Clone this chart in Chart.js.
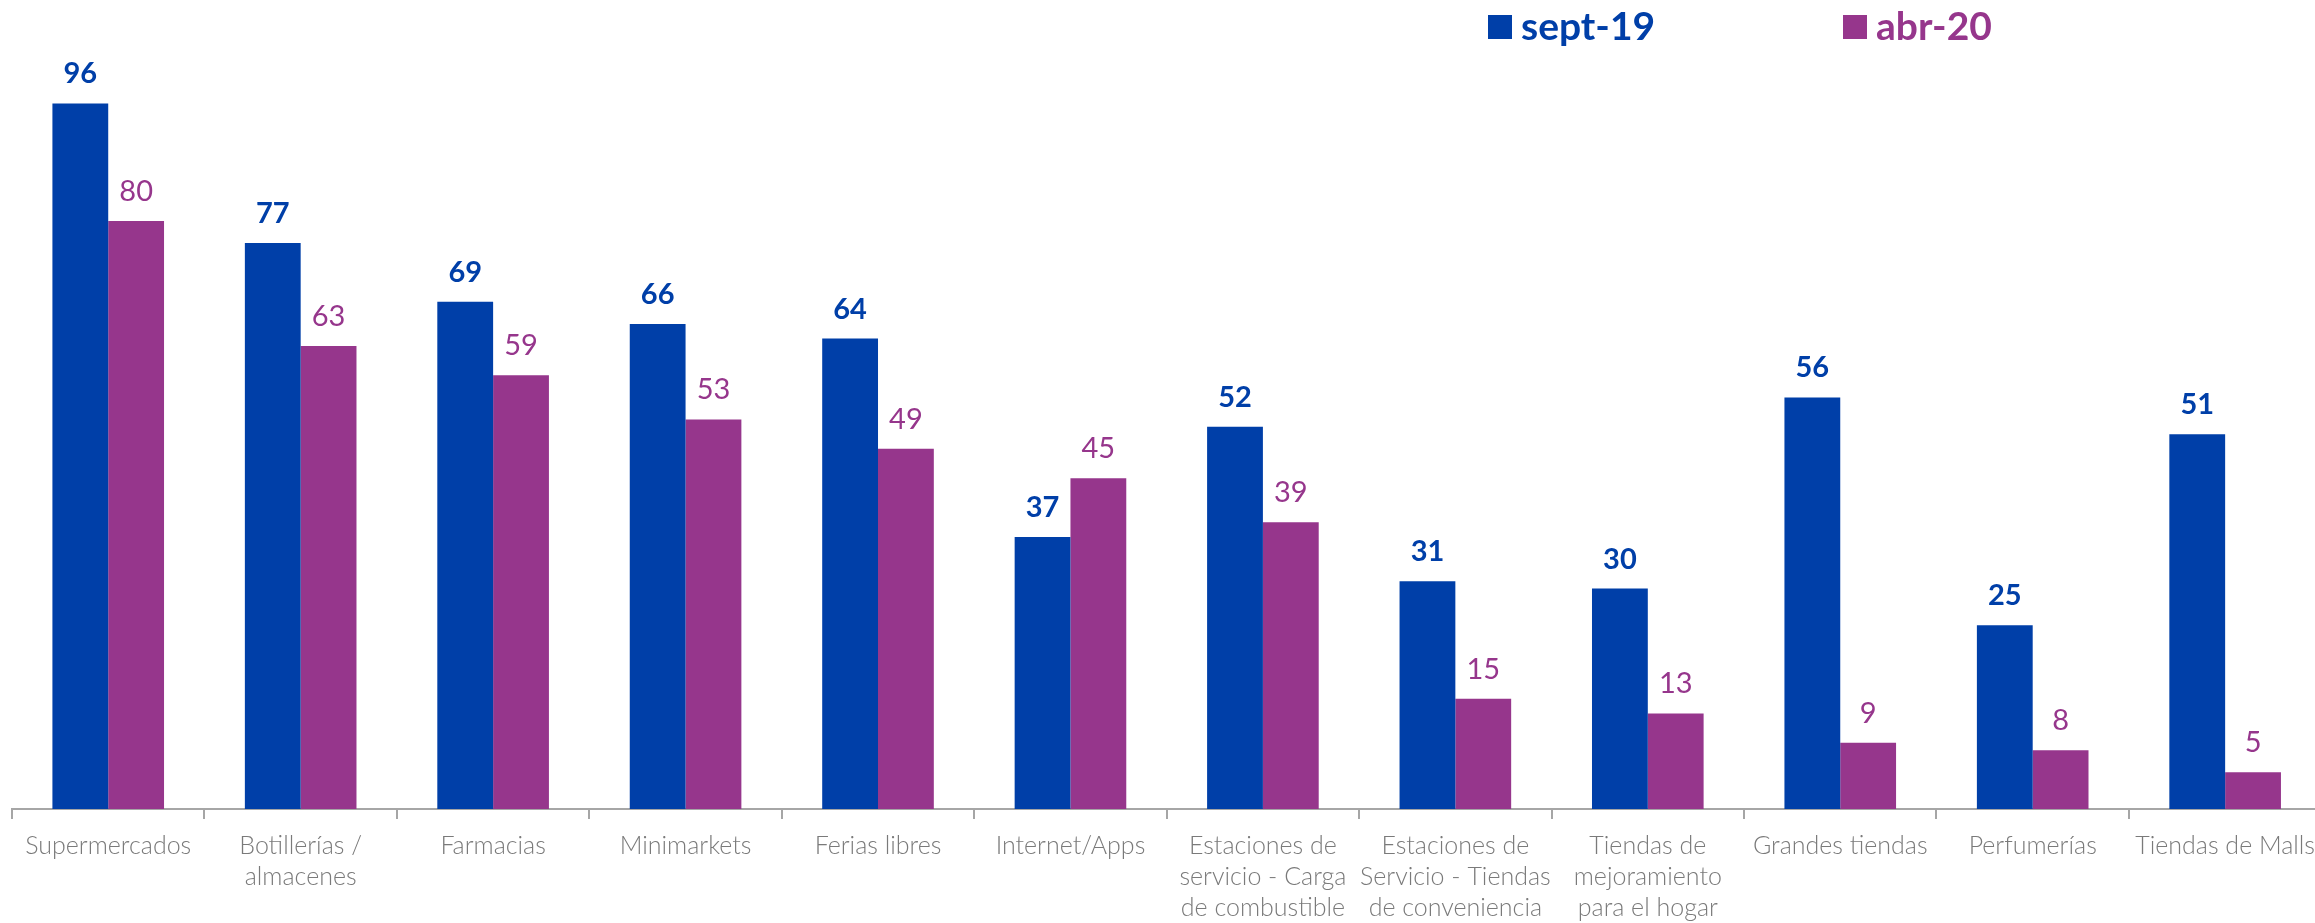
<!DOCTYPE html>
<html lang="es">
<head>
<meta charset="utf-8">
<title>Canales de compra</title>
<script src="https://cdn.jsdelivr.net/npm/chart.js@4.4.1/dist/chart.umd.min.js"></script>
<style>
  html, body { margin: 0; padding: 0; background: #ffffff; overflow: hidden; }
  #wrap { width: 2326px; height: 923px; position: relative; }
</style>
</head>
<body>
<div id="wrap"><canvas id="chart"></canvas></div>
<script>
// Channel names (multi-line labels)
const categories = [
  ['Supermercados'],
  ['Botillerías /', 'almacenes'],
  ['Farmacias'],
  ['Minimarkets'],
  ['Ferias libres'],
  ['Internet/Apps'],
  ['Estaciones de', 'servicio - Carga', 'de combustible'],
  ['Estaciones de', 'Servicio - Tiendas', 'de conveniencia'],
  ['Tiendas de', 'mejoramiento', 'para el hogar'],
  ['Grandes tiendas'],
  ['Perfumerías'],
  ['Tiendas de Malls']
];

// Series names
const seriesNames = ['sept-19', 'abr-20'];

// Values per period
const sept19 = [96, 77, 69, 66, 64, 37, 52, 31, 30, 56, 25, 51];
const abr20  = [80, 63, 59, 53, 49, 45, 39, 15, 13, 9, 8, 5];

const BLUE = '#003fa8';
const PURPLE = '#96368c';
const FONT = 'Lato, "Open Sans", "DejaVu Sans", sans-serif';

// Numbers written above each bar
const valueLabels = {
  id: 'valueLabels',
  afterDatasetsDraw(chart) {
    const ctx = chart.ctx;
    chart.data.datasets.forEach((ds, i) => {
      const meta = chart.getDatasetMeta(i);
      meta.data.forEach((bar, j) => {
        ctx.save();
        ctx.font = (i === 0 ? 'bold ' : '') + '29px ' + FONT;
        ctx.fillStyle = ds.backgroundColor;
        ctx.textAlign = 'center';
        ctx.textBaseline = 'alphabetic';
        ctx.fillText(String(ds.data[j]), bar.x, bar.y - 20);
        ctx.restore();
      });
    });
  }
};

// Legend with square markers in the top band
const squareLegend = {
  id: 'squareLegend',
  afterDraw(chart) {
    const ctx = chart.ctx;
    const items = [
      { x: 1488, ds: chart.data.datasets[0] },
      { x: 1843, ds: chart.data.datasets[1] }
    ];
    items.forEach(it => {
      ctx.save();
      ctx.fillStyle = it.ds.backgroundColor;
      ctx.fillRect(it.x, 15, 24, 24);
      ctx.font = 'bold 39px ' + FONT;
      ctx.textAlign = 'left';
      ctx.textBaseline = 'middle';
      ctx.fillText(it.ds.label, it.x + 33, 27);
      ctx.restore();
    });
  }
};

new Chart(document.getElementById('chart'), {
  type: 'bar',
  data: {
    labels: categories,
    datasets: [
      { label: seriesNames[0], data: sept19, backgroundColor: BLUE, borderWidth: 0 },
      { label: seriesNames[1], data: abr20, backgroundColor: PURPLE, borderWidth: 0 }
    ]
  },
  options: {
    responsive: true,
    maintainAspectRatio: false,
    animation: false,
    layout: { padding: { left: 12, right: 0, top: 74, bottom: -11 } },
    datasets: { bar: { categoryPercentage: 0.58, barPercentage: 1.0 } },
    plugins: {
      legend: { display: false },
      tooltip: { enabled: false }
    },
    scales: {
      x: {
        grid: {
          offset: true,
          drawOnChartArea: false,
          drawTicks: true,
          tickLength: 10,
          color: '#a6a6a6',
          lineWidth: 2
        },
        border: { display: true, color: '#a6a6a6', width: 2 },
        ticks: {
          color: '#7a7a7a',
          font: { family: FONT, size: 25, weight: '300', lineHeight: 1.24 },
          padding: 11,
          maxRotation: 0,
          autoSkip: false
        }
      },
      y: {
        display: false,
        min: 0,
        max: 100
      }
    }
  },
  plugins: [valueLabels, squareLegend]
});
</script>
</body>
</html>
